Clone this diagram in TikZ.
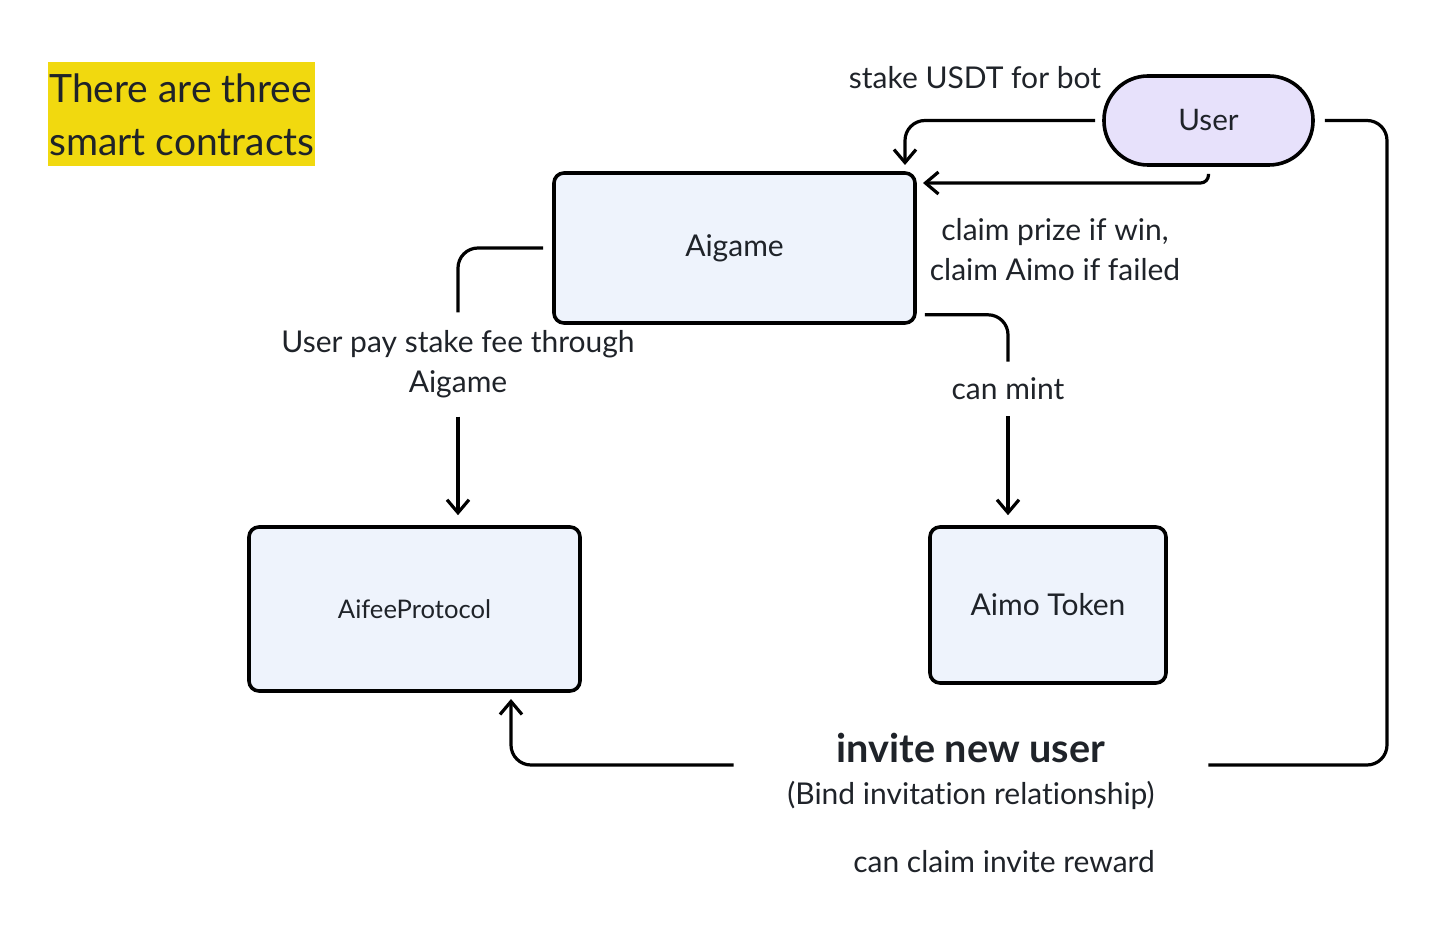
\documentclass[tikz,border=0pt]{standalone}
\usepackage{fontspec}
\setmainfont{Lato}[Ligatures=NoCommon]
\usetikzlibrary{arrows.meta}
\definecolor{ink}{HTML}{1F2329}
\definecolor{boxfill}{HTML}{EEF3FC}
\definecolor{userfill}{HTML}{E7E1FB}
\definecolor{hilite}{HTML}{F1D90F}
\tikzset{
  box/.style={draw=black, line width=1.8pt, rounded corners=5pt, fill=boxfill, text=ink, font=\fontsize{15}{18}\selectfont},
  lbl/.style={text=ink, align=center, inner sep=1pt, font=\fontsize{15}{20}\selectfont},
  link/.style={draw=black, line width=1.6pt, rounded corners=10pt},
  tip/.style={-{Straight Barb[length=6.5pt,width=11pt]}}
}
\begin{document}
\begin{tikzpicture}[x=0.5pt,y=0.5pt,yscale=-1]
\useasboundingbox (0,0) rectangle (1452,930);

%Shape: Highlight note
\node (note) [anchor=north west, fill=hilite, inner sep=0pt, minimum width=133.5pt, minimum height=52pt, align=left, text=ink, font=\fontsize{19.5}{26.5}\selectfont] at (48,62) {There are three\\smart contracts};

%Shape: Contracts
\node (aigame) [box, minimum width=180.5pt, minimum height=75pt] at (734.5,248) {Aigame};
\node (aifee) [box, minimum width=165.5pt, minimum height=82pt, font=\fontsize{12.8}{15}\selectfont] at (414.5,609) {AifeeProtocol};
\node (aimo) [box, minimum width=118pt, minimum height=78pt] at (1048,605) {Aimo Token};
%Shape: User pill
\node (user) [box, fill=userfill, rounded corners=22pt, minimum width=104.5pt, minimum height=44.5pt, font=\fontsize{14.8}{18}\selectfont] at (1208.5,120.5) {User};

% Text Node
\node (stakeLbl) [lbl] at (975,78) {stake USDT for bot};
% Text Node
\node (claimLbl) [lbl] at (1055,250) {claim prize if win,\\claim Aimo if failed};
% Text Node
\node (feeLbl) [lbl, inner ysep=9pt] at (458,364.5) {User pay stake fee through\\Aigame};
% Text Node
\node (mintLbl) [lbl, inner ysep=8pt] at (1008,389) {can mint};
% Text Node
\node (inviteLbl) [lbl, inner sep=0pt, minimum width=237pt] at (971,771) {{\bfseries\fontsize{19.8}{22}\selectfont invite new user}\\[1pt](Bind invitation relationship)};
% Text Node
\node (rewardLbl) [lbl] at (1004,862) {can claim invite reward};

%Straight Lines
\coordinate (aiTop) at (905,165);
\coordinate (aiSide) at (923,183);
\coordinate (rail) at (1387,765);
\coordinate (feeIn) at (511,699);

\draw [link, tip, shorten <=3.5pt] (user.west) -| (aiTop);
\draw [link, tip, rounded corners=4pt, shorten <=3.5pt] (user.south) |- (aiSide);
\draw [link, shorten <=4.5pt] (aigame.west) -| (feeLbl.north);
\draw [link, tip, shorten >=5pt] (feeLbl.south) -- (feeLbl.south |- aifee.north);
\draw [link, shorten <=4pt] ([yshift=-5pt]aigame.south east) -| (mintLbl.north);
\draw [link, tip, shorten >=5pt] (mintLbl.south) -- (mintLbl.south |- aimo.north);
\draw [link, shorten <=5pt] (user.east) -| (rail) -- (inviteLbl.east |- rail);
\draw [link, tip] (inviteLbl.west |- rail) -| (feeIn);

\end{tikzpicture}
\end{document}
